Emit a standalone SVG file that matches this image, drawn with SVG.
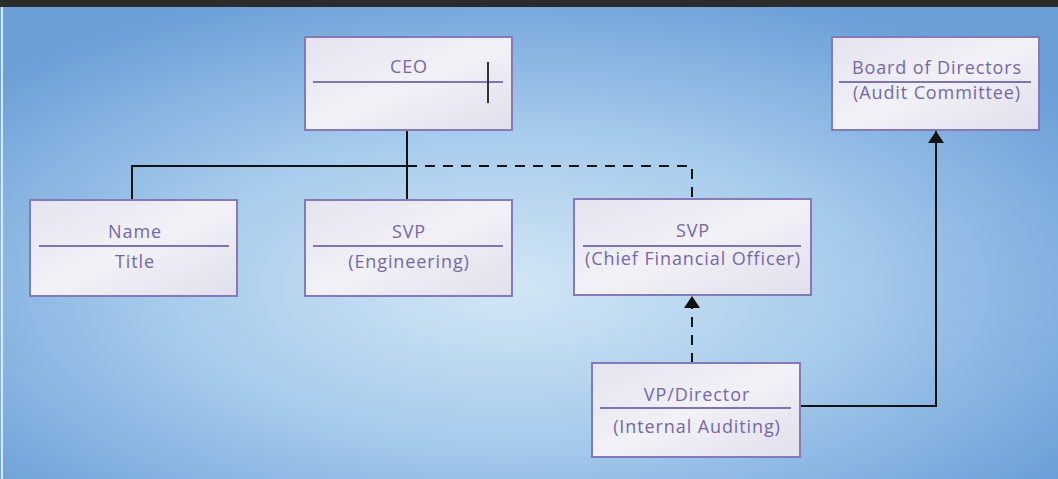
<svg xmlns="http://www.w3.org/2000/svg" width="1058" height="479" viewBox="0 0 1058 479">
<defs>
<radialGradient id="bg" cx="0.48" cy="0.6" r="0.65">
<stop offset="0" stop-color="#d2e6f4"/>
<stop offset="0.5" stop-color="#a6cbec"/>
<stop offset="1" stop-color="#6c9fd8"/>
</radialGradient>
<linearGradient id="box" x1="0" y1="0" x2="1" y2="1">
<stop offset="0" stop-color="#e4e3ef"/>
<stop offset="0.5" stop-color="#f2f1f7"/>
<stop offset="1" stop-color="#e0dfec"/>
</linearGradient>
<marker id="arr" viewBox="0 0 12 16" refX="12" refY="8" markerWidth="12" markerHeight="16" markerUnits="userSpaceOnUse" orient="auto">
<path d="M0,0 L12,8 L0,16 Z" fill="#111"/>
</marker>
</defs>
<style>
.box{fill:url(#box);stroke:#8579b8;stroke-width:2}
.div{stroke:#7f73b2;stroke-width:2}
.t{font-family:"Open Sans","Liberation Sans",sans-serif;font-size:18px;letter-spacing:0.9px;fill:#7468a6;text-anchor:middle}
.solid{fill:none;stroke:#111;stroke-width:2}
.dash{fill:none;stroke:#111;stroke-width:2;stroke-dasharray:10,8}
</style>
<rect x="0" y="0" width="1058" height="479" fill="url(#bg)"/>
<rect x="0" y="0" width="1058" height="7" fill="#2b2b2b"/>
<line x1="2" y1="7" x2="2" y2="479" stroke="#dfe9f2" stroke-width="2"/>
<g id="connectors">
<path class="solid" d="M407,131 V200"/>
<path class="solid" d="M407,166 H132 V200"/>
<path class="dash" d="M407,166 H692 V199"/>
<path class="dash" d="M692,363 V296" marker-end="url(#arr)"/>
<path class="solid" d="M801,406 H936 V131" marker-end="url(#arr)"/>
</g>
<g id="ceo">
<rect class="box" x="305" y="37" width="207" height="93"/>
<line class="div" x1="313" y1="82" x2="503" y2="82"/>
<line x1="488" y1="62" x2="488" y2="103" stroke="#333" stroke-width="2"/>
<text class="t" x="409" y="73">CEO</text>
</g>
<g id="board">
<rect class="box" x="832" y="37" width="207" height="93"/>
<line class="div" x1="839" y1="82" x2="1031" y2="82"/>
<text class="t" x="937" y="74">Board of Directors</text>
<text class="t" x="937" y="99">(Audit Committee)</text>
</g>
<g id="name">
<rect class="box" x="30" y="200" width="207" height="96"/>
<line class="div" x1="39" y1="246" x2="229" y2="246"/>
<text class="t" x="135" y="238">Name</text>
<text class="t" x="135" y="268">Title</text>
</g>
<g id="svp-eng">
<rect class="box" x="305" y="200" width="207" height="96"/>
<line class="div" x1="313" y1="246" x2="503" y2="246"/>
<text class="t" x="409" y="238">SVP</text>
<text class="t" x="409" y="268">(Engineering)</text>
</g>
<g id="svp-cfo">
<rect class="box" x="574" y="199" width="237" height="96"/>
<line class="div" x1="583" y1="246" x2="801" y2="246"/>
<text class="t" x="693" y="237">SVP</text>
<text class="t" x="693" y="265">(Chief Financial Officer)</text>
</g>
<g id="vp">
<rect class="box" x="592" y="363" width="208" height="94"/>
<line class="div" x1="600" y1="408" x2="791" y2="408"/>
<text class="t" x="697" y="401">VP/Director</text>
<text class="t" x="697" y="433">(Internal Auditing)</text>
</g>
</svg>
